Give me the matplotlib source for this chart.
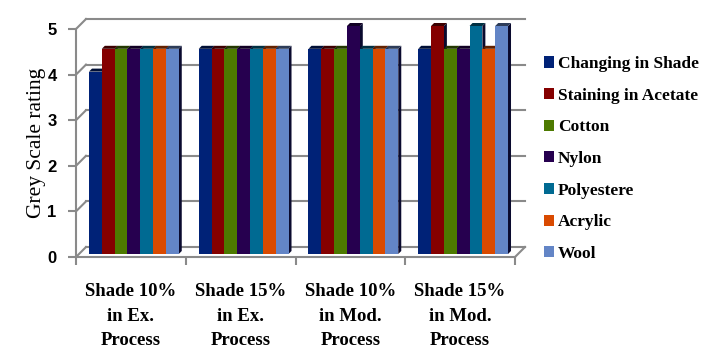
import matplotlib
matplotlib.use("Agg")
import matplotlib.pyplot as plt
import numpy as np
from matplotlib.patches import Polygon
from matplotlib.lines import Line2D
from matplotlib.transforms import ScaledTranslation
from matplotlib.colors import to_rgb

categories = ["Shade 10%\nin Ex.\nProcess", "Shade 15%\nin Ex.\nProcess",
              "Shade 10%\nin Mod.\nProcess", "Shade 15%\nin Mod.\nProcess"]
series_names = ["Changing in Shade", "Staining in Acetate", "Cotton", "Nylon",
                "Polyestere", "Acrylic", "Wool"]
changing_in_shade = [4.0, 4.5, 4.5, 4.5]
staining_in_acetate = [4.5, 4.5, 4.5, 5.0]
cotton = [4.5, 4.5, 4.5, 4.5]
nylon = [4.5, 4.5, 5.0, 4.5]
polyestere = [4.5, 4.5, 4.5, 5.0]
acrylic = [4.5, 4.5, 4.5, 4.5]
wool = [4.5, 4.5, 4.5, 5.0]
series_values = [changing_in_shade, staining_in_acetate, cotton, nylon,
                 polyestere, acrylic, wool]
y_ticks = [0, 1, 2, 3, 4, 5]

colors = ["#002277", "#850000", "#4D7A00", "#26004F", "#006A92", "#D94A00", "#6385C6"]
side_color = "#0a0a2e"


def darker(c, f=0.45):
    r, g, b = to_rgb(c)
    return (r * f, g * f, b * f)


W, H = 706, 358
fig = plt.figure(figsize=(W / 100, H / 100), dpi=100)
ax = fig.add_axes([76 / W, (H - 257) / H, (515 - 76) / W, (257 - 29) / H])
ax.set_xlim(-0.5, 3.5)
ax.set_ylim(0, 5)
ax.patch.set_alpha(0)

grid_c = "#8a8a8a"
back = ax.transData + ScaledTranslation(10 / 100, 10 / 100, fig.dpi_scale_trans)
for yv in y_ticks:
    ax.add_line(Line2D([-0.5, 3.5], [yv, yv], transform=back, color=grid_c, lw=1.5, clip_on=False, zorder=0))
    p0 = ax.transData.transform((-0.5, yv))
    ax.add_line(Line2D([p0[0], p0[0] + 10], [p0[1], p0[1] + 10], transform=None,
                       color=grid_c, lw=1.5, clip_on=False, zorder=0))
p0 = ax.transData.transform((3.5, 0))
ax.add_line(Line2D([p0[0], p0[0] + 10], [p0[1], p0[1] + 10], transform=None,
                   color=grid_c, lw=1.5, clip_on=False, zorder=0))

n = len(series_values)
group_w = 0.818
bw = group_w / n
off = 3.0
d = 3.0
x = np.arange(len(categories))
for i in range(len(categories)):
    for j, vals in enumerate(series_values):
        left = x[i] - group_w / 2 + j * bw
        (x0, y0) = ax.transData.transform((left, 0))
        (x1, y1) = ax.transData.transform((left + bw, vals[i]))
        x0 += off; x1 += off; y0 += off; y1 += off
        z = 2 + i * 10 + j
        front = Polygon([[x0, y0], [x1, y0], [x1, y1], [x0, y1]], closed=True,
                        transform=None, facecolor=colors[j], edgecolor="none", zorder=z)
        top = Polygon([[x0, y1], [x1, y1], [x1 + d, y1 + d], [x0 + d, y1 + d]], closed=True,
                      transform=None, facecolor=darker(colors[j]), edgecolor="none", zorder=z)
        side = Polygon([[x1, y0], [x1 + d, y0 + d], [x1 + d, y1 + d], [x1, y1]], closed=True,
                       transform=None, facecolor=side_color, edgecolor="none", zorder=z)
        for p in (side, top, front):
            p.set_clip_on(False)
            fig.add_artist(p)

for s in ("top", "right"):
    ax.spines[s].set_visible(False)
for s in ("left", "bottom"):
    ax.spines[s].set_color(grid_c)
    ax.spines[s].set_linewidth(1.5)
    ax.spines[s].set_zorder(1)

ax.set_yticks(y_ticks)
ax.set_yticklabels([str(v) for v in y_ticks], fontfamily="Liberation Sans",
                   fontweight="bold", fontsize=12)
ax.tick_params(axis="y", length=6, width=1.5, color=grid_c, pad=8)

ax.set_xticks(x)
ax.set_xticklabels(categories, fontfamily="Liberation Serif", fontweight="bold",
                   fontsize=13.5, linespacing=1.55)
ax.tick_params(axis="x", which="major", length=0, pad=19)
ax.set_xticks(np.arange(-0.5, 4.0, 1.0), minor=True)
ax.tick_params(axis="x", which="minor", length=6, width=1.5, color=grid_c)

ax.set_ylabel("Grey Scale rating", fontfamily="Liberation Serif", fontsize=15.5, labelpad=1)

handles = [plt.Rectangle((0, 0), 1, 1, facecolor=c, edgecolor="none") for c in colors]
fig.legend(handles, series_names, loc="center left", bbox_to_anchor=(537 / W, 1 - 159 / H),
           frameon=False, prop={"family": "Liberation Serif", "weight": "bold", "size": 12.5},
           handlelength=0.6, handleheight=0.6, handletextpad=0.2, labelspacing=0.9,
           borderaxespad=0)

fig.savefig("out.png", dpi=100)
